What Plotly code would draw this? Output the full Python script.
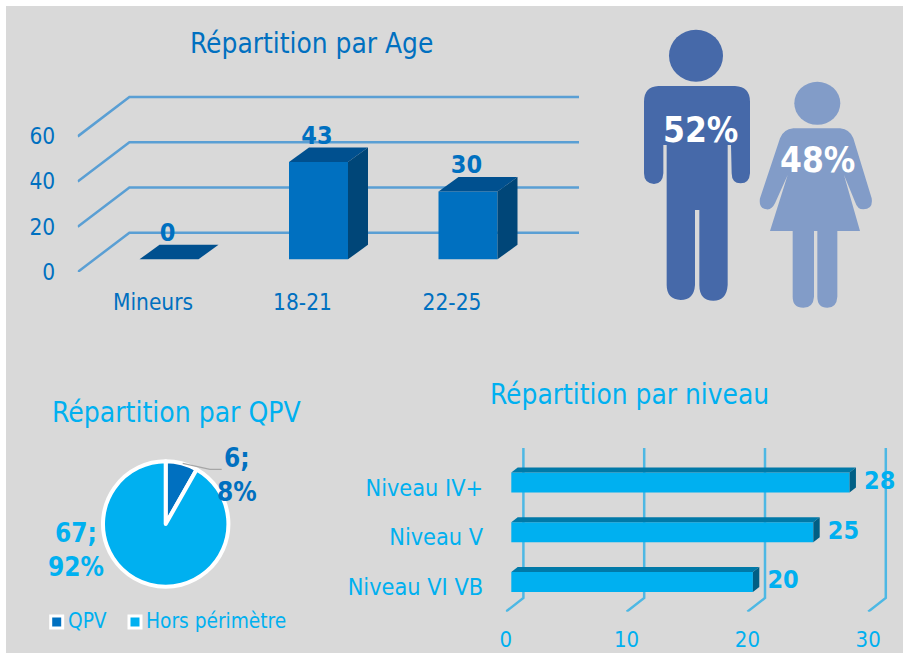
import plotly.graph_objects as go

W, H = 903, 653
FONT = "DejaVu Sans Condensed"
BLUE, CYAN = "#0070c0", "#00b0f0"

# ---- data ----
age_categories = ["Mineurs", "18-21", "22-25"]
age_values = [0, 43, 30]
age_ticks = [0, 20, 40, 60]

sex_labels = ["52%", "48%"]

qpv_labels = ["QPV", "Hors périmètre"]
qpv_values = [6, 67]
qpv_texts = ["6;<br>8%", "67;<br>92%"]

level_categories = ["Niveau VI VB", "Niveau V", "Niveau IV+"]
level_values = [20, 25, 28]
level_ticks = [0, 10, 20, 30]


def px(x):
    return x / W


def py(y):
    return 1 - y / H


def closed(xs, ys):
    return xs + [xs[0]], ys + [ys[0]]


fig = go.Figure()
shapes = []
annotations = []

# background
shapes.append(dict(type="rect", xref="paper", yref="paper", layer="below",
                   x0=px(6), x1=1, y0=0, y1=py(6),
                   fillcolor="#d9d9d9", line_width=0))

# ---- age chart (oblique 3D column look) ----
A_PX_CAT, A_PX_UNIT = 149.5, 2.26
A_DX, A_DY = 20 / A_PX_CAT, 14.5 / A_PX_UNIT      # bar depth in axis units
A_GX, A_GY = 51.7 / A_PX_CAT, 39.3 / A_PX_UNIT    # floor depth in axis units
A_BAR_SHIFT, A_BAR_W = 16 / A_PX_CAT, 59 / A_PX_CAT
A_FLOOR = -12.7 / A_PX_UNIT
A_X0 = (77.7 - 153) / A_PX_CAT
A_X1 = (579 - 153) / A_PX_CAT
A_Y0 = A_FLOOR
A_Y1 = (259.3 - 90) / A_PX_UNIT
age_idx = list(range(len(age_categories)))

for t in age_ticks:
    yf = A_FLOOR + t
    shapes.append(dict(type="path", xref="x", yref="y", layer="below",
                       path=f"M {A_X0},{yf} L {A_X0 + A_GX},{yf + A_GY} L {A_X1},{yf + A_GY}",
                       line=dict(color="#5a9fd4", width=2.5)))

fig.add_trace(go.Bar(x=[i + A_BAR_SHIFT for i in age_idx], y=age_values, width=A_BAR_W,
                     marker=dict(color=BLUE, line_width=0), xaxis="x", yaxis="y",
                     showlegend=False, hoverinfo="skip"))
for i, v in zip(age_idx, age_values):
    c = i + A_BAR_SHIFT
    l, r = c - A_BAR_W / 2, c + A_BAR_W / 2
    xs, ys = closed([l, r, r + A_DX, l + A_DX], [v, v, v + A_DY, v + A_DY])
    fig.add_trace(go.Scatter(x=xs, y=ys, fill="toself", fillcolor="#00508f", mode="lines",
                             line_width=0, xaxis="x", yaxis="y", showlegend=False, hoverinfo="skip"))
    if v > 0:
        xs, ys = closed([r, r + A_DX, r + A_DX, r], [0, A_DY, v + A_DY, v])
        fig.add_trace(go.Scatter(x=xs, y=ys, fill="toself", fillcolor="#004678", mode="lines",
                                 line_width=0, xaxis="x", yaxis="y", showlegend=False, hoverinfo="skip"))
fig.add_trace(go.Scatter(x=[i + A_BAR_SHIFT - 1.5 / A_PX_CAT for i in age_idx],
                         y=[v + 11 for v in age_values],
                         text=[str(v) for v in age_values], mode="text",
                         textfont=dict(family=FONT, size=25, color=BLUE, weight="bold"),
                         cliponaxis=False, xaxis="x", yaxis="y", showlegend=False, hoverinfo="skip"))

# ---- level chart (oblique 3D bar look) ----
L_PX_UNIT, L_PX_CAT = 12.08, 49.75
L_DX, L_DY = 6.4 / L_PX_UNIT, 5 / L_PX_CAT
L_GX, L_GY = 17.6 / L_PX_UNIT, 13.7 / L_PX_CAT
L_BAR_H = 20 / L_PX_CAT
L_FLOOR = -5.5 / L_PX_UNIT
L_X0 = L_FLOOR
L_X1 = (890 - 511.3) / L_PX_UNIT
L_Y0 = (582 - 611.7) / L_PX_CAT
L_Y1 = (582 - 448) / L_PX_CAT
level_idx = list(range(len(level_categories)))

for t in level_ticks:
    xf = L_FLOOR + t
    shapes.append(dict(type="path", xref="x2", yref="y2", layer="below",
                       path=f"M {xf},{L_Y0} L {xf + L_GX},{L_Y0 + L_GY} L {xf + L_GX},{L_Y1}",
                       line=dict(color="#4db8e4", width=2.5)))

fig.add_trace(go.Bar(y=level_idx, x=level_values, width=L_BAR_H, orientation="h",
                     marker=dict(color=CYAN, line_width=0), xaxis="x2", yaxis="y2",
                     showlegend=False, hoverinfo="skip"))
for i, v in zip(level_idx, level_values):
    b, t = i - L_BAR_H / 2, i + L_BAR_H / 2
    xs, ys = closed([0, v, v + L_DX, L_DX], [t, t, t + L_DY, t + L_DY])
    fig.add_trace(go.Scatter(x=xs, y=ys, fill="toself", fillcolor="#0079a8", mode="lines",
                             line_width=0, xaxis="x2", yaxis="y2", showlegend=False, hoverinfo="skip"))
    xs, ys = closed([v, v + L_DX, v + L_DX, v], [b, b + L_DY, t + L_DY, t])
    fig.add_trace(go.Scatter(x=xs, y=ys, fill="toself", fillcolor="#005f85", mode="lines",
                             line_width=0, xaxis="x2", yaxis="y2", showlegend=False, hoverinfo="skip"))
fig.add_trace(go.Scatter(x=[v + 2.5 for v in level_values], y=level_idx,
                         text=[str(v) for v in level_values], mode="text",
                         textfont=dict(family=FONT, size=25, color=CYAN, weight="bold"),
                         cliponaxis=False, xaxis="x2", yaxis="y2", showlegend=False, hoverinfo="skip"))

# ---- pie ----
fig.add_trace(go.Pie(labels=qpv_labels, values=qpv_values, sort=False, direction="clockwise",
                     rotation=0, textinfo="none", showlegend=False, hoverinfo="skip",
                     marker=dict(colors=[BLUE, CYAN], line=dict(color="white", width=4)),
                     domain=dict(x=[px(103), px(228.4)], y=[py(586.7), py(461.3)])))
shapes.append(dict(type="path", xref="paper", yref="paper", layer="above",
                   path=f"M {px(182.7)},{py(463.3)} L {px(210)},{py(469.3)} L {px(221.7)},{py(469.3)}",
                   line=dict(color="#a6a6a6", width=1.2)))
for text, color, x, y in [(qpv_texts[0], BLUE, 237, 475), (qpv_texts[1], CYAN, 76, 550)]:
    annotations.append(dict(text=f"<b>{text}</b>", x=px(x), y=py(y), xref="paper", yref="paper",
                            showarrow=False, xanchor="center", yanchor="middle", align="center",
                            font=dict(family=FONT, size=26, color=color)))

# pie legend
for label, color, mx, tx in [(qpv_labels[0], BLUE, 56.7, 66), (qpv_labels[1], CYAN, 135, 144)]:
    shapes.append(dict(type="rect", xref="paper", yref="paper", layer="above",
                       x0=px(mx - 7.5), x1=px(mx + 7.5), y0=py(622 + 7.5), y1=py(622 - 7.5),
                       fillcolor="white", line_width=0))
    shapes.append(dict(type="rect", xref="paper", yref="paper", layer="above",
                       x0=px(mx - 4.5), x1=px(mx + 4.5), y0=py(622 + 4.5), y1=py(622 - 4.5),
                       fillcolor=color, line_width=0))
    annotations.append(dict(text=label, x=px(tx), y=py(621), xref="paper", yref="paper",
                            showarrow=False, xanchor="left", yanchor="middle",
                            font=dict(family=FONT, size=20.7, color=CYAN)))


# ---- pictograms ----
def icon_path(d, ox=620, oy=10, k=3):
    out = []
    for tok in d.split():
        if "," in tok:
            a, b = tok.split(",")
            out.append(f"{px(ox + float(a) / k)},{py(oy + float(b) / k)}")
        else:
            out.append(tok)
    return " ".join(out)


MAN = ("M 115,228 L 345,228 Q 390,230 390,275 L 390,490 Q 388,520 362,520 Q 335,520 335,490 "
       "L 333,405 L 323,405 L 323,825 Q 320,872 280,872 Q 238,872 238,825 L 238,600 L 225,600 "
       "L 225,825 Q 222,870 182,870 Q 140,868 140,825 L 140,405 L 130,405 L 130,490 "
       "Q 128,522 102,522 Q 72,520 72,490 L 72,275 Q 72,230 115,228 Z")
WOMAN = ("M 520,355 L 660,355 Q 690,358 700,385 L 755,565 Q 760,598 730,598 Q 712,598 705,575 "
         "L 672,495 L 720,663 L 652,663 L 652,860 Q 650,893 622,893 Q 592,893 592,860 L 592,663 "
         "L 582,663 L 582,860 Q 580,893 550,893 Q 518,893 518,860 L 518,663 L 450,663 L 503,495 "
         "L 465,580 Q 455,600 440,598 Q 415,595 420,565 L 480,385 Q 490,358 520,355 Z")
for d, color, (cx, cy, rx, ry) in [(MAN, "#4669a9", (696, 55.7, 27, 26)),
                                   (WOMAN, "#829cc8", (817.3, 103.3, 23, 21.5))]:
    shapes.append(dict(type="path", xref="paper", yref="paper", layer="below",
                       path=icon_path(d), fillcolor=color, line_width=0))
    shapes.append(dict(type="circle", xref="paper", yref="paper", layer="below",
                       x0=px(cx - rx), x1=px(cx + rx), y0=py(cy + ry), y1=py(cy - ry),
                       fillcolor=color, line_width=0))
for text, x, y in [(sex_labels[0], 700, 130), (sex_labels[1], 817, 160)]:
    annotations.append(dict(text=f"<b>{text}</b>", x=px(x), y=py(y), xref="paper", yref="paper",
                            showarrow=False, xanchor="center", yanchor="middle",
                            font=dict(family=FONT, size=35, color="white")))

# ---- titles ----
for text, color, x, y, size in [("Répartition par Age", BLUE, 311.5, 43, 27.8),
                                ("Répartition par QPV", CYAN, 176, 412, 28),
                                ("Répartition par niveau", CYAN, 629.5, 394, 27.8)]:
    annotations.append(dict(text=text, x=px(x), y=py(y), xref="paper", yref="paper",
                            showarrow=False, xanchor="center", yanchor="middle",
                            font=dict(family=FONT, size=size, color=color)))

TRANSPARENT = "rgba(0,0,0,0)"
fig.update_layout(
    width=W, height=H, autosize=False, margin=dict(l=0, r=0, t=0, b=0),
    paper_bgcolor="white", plot_bgcolor=TRANSPARENT, barmode="overlay",
    shapes=shapes, annotations=annotations,
    xaxis=dict(domain=[px(77.7), px(579)], range=[A_X0, A_X1], anchor="y", automargin=False,
               tickvals=age_idx, ticktext=age_categories, ticks="outside", ticklen=10,
               tickcolor=TRANSPARENT, showgrid=False, zeroline=False, showline=False,
               tickfont=dict(family=FONT, size=22.5, color=BLUE)),
    yaxis=dict(domain=[py(272), py(90)], range=[A_Y0, A_Y1], anchor="x", automargin=False,
               tickvals=[A_FLOOR + t for t in age_ticks], ticktext=[str(t) for t in age_ticks],
               ticks="outside", ticklen=17, tickcolor=TRANSPARENT, showgrid=False, zeroline=False,
               showline=False, tickfont=dict(family=FONT, size=22.5, color=BLUE)),
    xaxis2=dict(domain=[px(505.8), px(890)], range=[L_X0, L_X1], anchor="y2", automargin=False,
                tickvals=[L_FLOOR + t for t in level_ticks], ticktext=[str(t) for t in level_ticks],
                ticks="outside", ticklen=8, tickcolor=TRANSPARENT, showgrid=False, zeroline=False,
                showline=False, tickfont=dict(family=FONT, size=22, color=CYAN)),
    yaxis2=dict(domain=[py(611.7), py(448)], range=[L_Y0, L_Y1], anchor="x2", automargin=False,
                tickvals=[i - 0.1 for i in level_idx], ticktext=level_categories,
                ticks="outside", ticklen=17, tickcolor=TRANSPARENT, showgrid=False, zeroline=False,
                showline=False, tickfont=dict(family=FONT, size=23.3, color=CYAN)),
)

fig.write_html("out.html", config=dict(displayModeBar=False),
               post_script="document.body.style.margin='0';document.body.style.overflow='hidden';")
